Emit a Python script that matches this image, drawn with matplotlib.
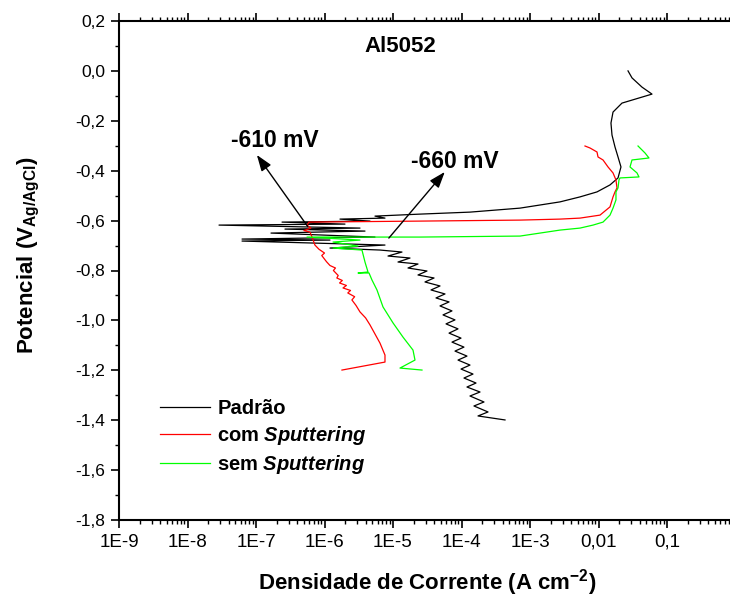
#!/usr/bin/env python3
import numpy as np
import matplotlib
matplotlib.use("Agg")
import matplotlib.pyplot as plt
import matplotlib.ticker as tck

plt.rcParams['font.family'] = ['Liberation Sans', 'DejaVu Sans']
plt.rcParams['mathtext.fontset'] = 'custom'
plt.rcParams['mathtext.rm'] = 'Liberation Sans'
plt.rcParams['mathtext.it'] = 'Liberation Sans:italic'
plt.rcParams['mathtext.bf'] = 'Liberation Sans:bold'
plt.rcParams['mathtext.bfit'] = 'Liberation Sans:bold:italic'

# Padrao: log10 of current density (A cm-2) and potential (V Ag/AgCl)
padrao_logi = [-3.365, -3.759, -3.613, -3.818, -3.672, -3.876, -3.730, -3.920, -3.788, -3.964,
               -3.832, -4.007, -3.876, -4.051, -3.920, -4.095, -3.964, -4.139, -4.007, -4.182,
               -4.051, -4.226, -4.095, -4.270, -4.139, -4.314, -4.182, -4.372, -4.241, -4.445,
               -4.314, -4.533, -4.401, -4.635, -4.504, -4.781, -4.635, -4.927, -4.752, -5.073,
               -4.869, -5.190, -5.920, -5.117, -7.204, -5.920, -7.204, -5.263, -6.781, -5.409,
               -6.577, -5.482, -7.540, -5.701, -6.620, -5.336, -5.774, -5.117, -5.263, -4.606,
               -3.876, -3.146, -2.562, -2.270, -2.022, -1.832, -1.715, -1.672, -1.715, -1.759,
               -1.803, -1.818, -1.788, -1.657, -1.219, -1.365, -1.511, -1.569]
padrao_E = [-1.399, -1.383, -1.367, -1.343, -1.327, -1.303, -1.287, -1.267, -1.251, -1.231,
            -1.215, -1.195, -1.179, -1.159, -1.143, -1.123, -1.107, -1.087, -1.071, -1.051,
            -1.034, -1.014, -0.998, -0.978, -0.962, -0.942, -0.926, -0.910, -0.894, -0.878,
            -0.862, -0.846, -0.830, -0.818, -0.802, -0.790, -0.774, -0.766, -0.750, -0.742,
            -0.726, -0.718, -0.710, -0.698, -0.682, -0.678, -0.674, -0.666, -0.650, -0.642,
            -0.634, -0.630, -0.618, -0.614, -0.606, -0.602, -0.594, -0.590, -0.582, -0.574,
            -0.566, -0.550, -0.525, -0.505, -0.485, -0.457, -0.429, -0.385, -0.345, -0.305,
            -0.257, -0.209, -0.165, -0.129, -0.093, -0.065, -0.028, 0.000]

# com Sputtering
com_logi = [-5.745, -5.117, -5.117, -5.190, -5.336, -5.400, -5.482, -5.540, -5.600, -5.560,
            -5.660, -5.620, -5.730, -5.680, -5.780, -5.740, -5.820, -5.800, -5.870, -5.840,
            -5.920, -5.970, -6.040, -6.000, -6.080, -6.140, -6.182, -6.212, -6.300, -6.200,
            -6.255, -6.226, -4.606, -3.146, -2.562, -2.270, -1.978, -1.832, -1.788, -1.759,
            -1.730, -1.745, -1.788, -1.861, -1.934, -2.007, -2.022, -2.124, -2.197]
com_E = [-1.199, -1.167, -1.139, -1.091, -1.018, -0.990, -0.966, -0.940, -0.918, -0.905,
         -0.890, -0.880, -0.870, -0.860, -0.850, -0.840, -0.830, -0.820, -0.800, -0.790,
         -0.780, -0.765, -0.740, -0.730, -0.715, -0.698, -0.666, -0.646, -0.640, -0.630,
         -0.618, -0.606, -0.602, -0.598, -0.594, -0.590, -0.578, -0.545, -0.505, -0.485,
         -0.469, -0.437, -0.409, -0.385, -0.357, -0.345, -0.325, -0.309, -0.301]

# sem Sputtering
sem_logi = [-4.577, -4.898, -4.679, -4.708, -4.854, -5.000, -5.146, -5.234, -5.307, -5.350,
            -5.511, -5.365, -5.409, -5.453, -5.876, -5.511, -5.876, -5.482, -6.255, -4.606,
            -3.146, -2.562, -2.270, -2.080, -1.934, -1.832, -1.788, -1.745, -1.745, -1.715,
            -1.701, -1.686, -1.409, -1.438, -1.540, -1.511, -1.263, -1.321, -1.423]
sem_E = [-1.199, -1.191, -1.159, -1.119, -1.067, -1.010, -0.946, -0.878, -0.838, -0.810,
         -0.810, -0.806, -0.766, -0.718, -0.710, -0.702, -0.686, -0.678, -0.666, -0.666,
         -0.662, -0.638, -0.630, -0.618, -0.606, -0.578, -0.550, -0.517, -0.485, -0.469,
         -0.437, -0.429, -0.425, -0.409, -0.385, -0.357, -0.349, -0.329, -0.301]

labels = ['Padrão', r'com $\mathbfit{Sputtering}$', r'sem $\mathbfit{Sputtering}$']
colors = ['#000000', '#ff0000', '#00ff00']

x_ticks = [1e-9, 1e-8, 1e-7, 1e-6, 1e-5, 1e-4, 1e-3, 1e-2, 1e-1, 1]
x_tick_labels = ['1E-9', '1E-8', '1E-7', '1E-6', '1E-5', '1E-4', '1E-3', '0,01', '0,1', '1']
y_ticks = [-1.8, -1.6, -1.4, -1.2, -1.0, -0.8, -0.6, -0.4, -0.2, 0.0, 0.2]
y_tick_labels = ['-1,8', '-1,6', '-1,4', '-1,2', '-1,0', '-0,8', '-0,6', '-0,4', '-0,2', '0,0', '0,2']

fig = plt.figure(figsize=(7.30, 6.02), dpi=100)
ax = fig.add_axes([119/730, 82/602, 616.5/730, 499/602])

series = [(padrao_logi, padrao_E), (com_logi, com_E), (sem_logi, sem_E)]
for (li, e), c, lab in zip(series, colors, labels):
    ax.plot(10**np.array(li), e, color=c, linewidth=0.9, label=lab)

ax.set_xscale('log')
ax.set_xlim(1e-9, 1)
ax.set_ylim(-1.8, 0.2)
ax.set_xticks(x_ticks)
ax.set_xticklabels(x_tick_labels)
ax.xaxis.set_minor_locator(tck.LogLocator(base=10, subs=np.arange(2, 10), numticks=20))
ax.xaxis.set_minor_formatter(tck.NullFormatter())
ax.set_yticks(y_ticks)
ax.set_yticklabels(y_tick_labels)
ax.yaxis.set_minor_locator(tck.MultipleLocator(0.1))

ax.tick_params(direction='out', which='major', length=6, width=1.2, top=True, pad=4)
ax.tick_params(axis='x', which='major', labelsize=13.5)
ax.tick_params(axis='y', which='major', labelsize=12.5)
ax.tick_params(direction='out', which='minor', length=3, width=1.0, top=True)
for s in ax.spines.values():
    s.set_linewidth(1.5)

ax.set_xlabel(r'Densidade de Corrente (A cm$^{\mathbf{-2}}$)', fontsize=16, fontweight='bold', labelpad=12)
ax.set_ylabel(r'Potencial (V$_{\mathbf{Ag/AgCl}}$)', fontsize=16, fontweight='bold')
ax.yaxis.set_label_coords(-0.125, 0.53)

ax.text(0.456, 0.948, 'Al5052', transform=ax.transAxes, ha='center', va='center',
        fontsize=16, fontweight='bold')

arrow_style = dict(arrowstyle='-|>,head_width=0.25,head_length=0.7', color='k', lw=1.0,
                   mutation_scale=14, shrinkA=0, shrinkB=0)
ax.annotate('', xy=(1.03e-7, -0.337), xytext=(5.7e-7, -0.624), arrowprops=arrow_style)
ax.text(1.9e-7, -0.277, '-610 mV', ha='center', va='center', fontsize=16.5, fontweight='bold')
ax.annotate('', xy=(5.7e-5, -0.405), xytext=(8.7e-6, -0.670), arrowprops=arrow_style)
ax.text(8e-5, -0.365, '-660 mV', ha='center', va='center', fontsize=16.5, fontweight='bold')

leg = ax.legend(loc='upper left', bbox_to_anchor=(0.0665, 0.243), frameon=False,
                prop={'size': 14.5, 'weight': 'bold'}, handlelength=2.5, handletextpad=0.35,
                labelspacing=0.3, borderpad=0, borderaxespad=0)

fig.savefig('out.png', dpi=100)
